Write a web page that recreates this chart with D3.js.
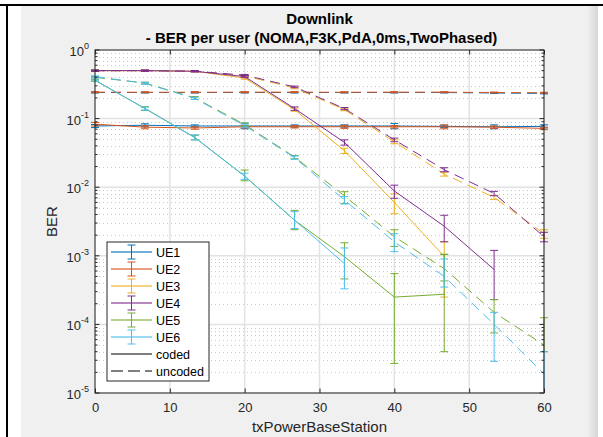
<!DOCTYPE html>
<html><head><meta charset="utf-8">
<script src="https://cdnjs.cloudflare.com/ajax/libs/d3/7.8.5/d3.min.js"></script>
<style>
body{margin:0;background:#fff;}
svg{display:block;}
text{font-family:"Liberation Sans",Arial,Helvetica,sans-serif;}
</style>
</head><body>
<svg id="c" width="603" height="437"></svg>
<script>
// ---------------- data ----------------
const txPower = [0, 6.667, 13.333, 20, 26.667, 33.333, 40, 46.667, 53.333, 60];
const xTicks = [0, 10, 20, 30, 40, 50, 60];
const yTickExp = [0, -1, -2, -3, -4, -5];
const ueNames = ["UE1", "UE2", "UE3", "UE4", "UE5", "UE6"];
const ueColors = ["#0072BD", "#D95319", "#EDB120", "#7E2F8E", "#77AC30", "#4DBEEE"];
const titleLines = ["Downlink", " - BER per user (NOMA,F3K,PdA,0ms,TwoPhased)"];
const xLabel = "txPowerBaseStation";
const yLabel = "BER";
const legendExtra = ["coded", "uncoded"];

// coded (solid) BER, with lower/upper error bar bounds
const ue1Coded   = [0.078, 0.080, 0.078, 0.078, 0.078, 0.078, 0.078, 0.077, 0.076, 0.077];
const ue1CodedLo = [0.074, 0.076, 0.075, 0.071, 0.075, 0.075, 0.071, 0.074, 0.071, 0.073];
const ue1CodedHi = [0.082, 0.084, 0.081, 0.086, 0.081, 0.081, 0.085, 0.080, 0.081, 0.081];
const ue2Coded   = [0.083, 0.075, 0.073, 0.076, 0.076, 0.076, 0.076, 0.076, 0.075, 0.072];
const ue2CodedLo = [0.078, 0.071, 0.070, 0.073, 0.073, 0.072, 0.073, 0.071, 0.072, 0.069];
const ue2CodedHi = [0.088, 0.079, 0.076, 0.079, 0.079, 0.080, 0.079, 0.081, 0.078, 0.075];
const ue3Coded   = [0.50, 0.50, 0.49, 0.39, 0.135, 0.034, 0.0060, 0.00098, null, null];
const ue3CodedLo = [0.49, 0.49, 0.48, 0.375, 0.128, 0.031, 0.0041, 0.00025, null, null];
const ue3CodedHi = [0.51, 0.51, 0.50, 0.405, 0.142, 0.037, 0.0080, 0.0016, null, null];
const ue4Coded   = [0.50, 0.50, 0.49, 0.41, 0.14, 0.045, 0.0088, 0.0027, 0.00063, null];
const ue4CodedLo = [0.49, 0.49, 0.48, 0.395, 0.132, 0.041, 0.0069, 0.0016, 0.00023, null];
const ue4CodedHi = [0.51, 0.51, 0.50, 0.425, 0.148, 0.049, 0.0107, 0.0039, 0.0012, null];
const ue5Coded   = [0.36, 0.141, 0.053, 0.0145, 0.0033, 0.00097, 0.00025, 0.000275, null, null];
const ue5CodedLo = [0.35, 0.131, 0.049, 0.0124, 0.0024, 0.00046, 0.000027, 0.00004, null, null];
const ue5CodedHi = [0.37, 0.149, 0.057, 0.0178, 0.0046, 0.00155, 0.00055, 0.00105, null, null];
const ue6Coded   = [0.365, 0.14, 0.053, 0.0145, 0.0033, 0.00077, null, null, null, null];
const ue6CodedLo = [0.355, 0.133, 0.049, 0.0130, 0.0025, 0.00033, null, null, null, null];
const ue6CodedHi = [0.375, 0.147, 0.058, 0.0160, 0.0044, 0.0013, null, null, null, null];

// uncoded (dashed) BER, with lower/upper error bar bounds
const ue1Unc   = [0.240, 0.240, 0.240, 0.240, 0.240, 0.240, 0.240, 0.240, 0.236, 0.233];
const ue1UncLo = [0.236, 0.236, 0.236, 0.236, 0.236, 0.236, 0.236, 0.236, 0.232, 0.229];
const ue1UncHi = [0.244, 0.244, 0.244, 0.244, 0.244, 0.244, 0.244, 0.244, 0.240, 0.237];
const ue2Unc   = [0.243, 0.242, 0.242, 0.243, 0.243, 0.242, 0.243, 0.243, 0.240, 0.238];
const ue2UncLo = [0.239, 0.238, 0.238, 0.239, 0.239, 0.238, 0.239, 0.239, 0.236, 0.234];
const ue2UncHi = [0.247, 0.246, 0.246, 0.247, 0.247, 0.246, 0.247, 0.247, 0.244, 0.242];
const ue3Unc   = [0.50, 0.50, 0.49, 0.42, 0.28, 0.135, 0.046, 0.0155, 0.0071, 0.0021];
const ue3UncLo = [0.49, 0.49, 0.48, 0.41, 0.272, 0.130, 0.043, 0.0145, 0.0066, 0.0018];
const ue3UncHi = [0.51, 0.51, 0.50, 0.43, 0.288, 0.140, 0.049, 0.0165, 0.0076, 0.0024];
const ue4Unc   = [0.50, 0.50, 0.49, 0.43, 0.29, 0.14, 0.049, 0.018, 0.0081, 0.0019];
const ue4UncLo = [0.49, 0.49, 0.48, 0.42, 0.282, 0.135, 0.046, 0.0168, 0.0075, 0.0016];
const ue4UncHi = [0.51, 0.51, 0.50, 0.44, 0.298, 0.145, 0.052, 0.0192, 0.0087, 0.0022];
const ue5Unc   = [0.40, 0.33, 0.20, 0.082, 0.0275, 0.0075, 0.0019, 0.00065, 0.00015, 0.00005];
const ue5UncLo = [0.39, 0.32, 0.19, 0.078, 0.026, 0.0058, 0.00137, 0.00043, 0.000075, 0.00004];
const ue5UncHi = [0.41, 0.34, 0.21, 0.086, 0.029, 0.0086, 0.0024, 0.00105, 0.00023, 0.000125];
const ue6Unc   = [0.41, 0.327, 0.197, 0.079, 0.027, 0.0065, 0.0016, 0.0005, 0.0001, 0.000019];
const ue6UncLo = [0.40, 0.317, 0.19, 0.075, 0.0255, 0.0057, 0.00115, 0.00035, 0.000029, 0.000001];
const ue6UncHi = [0.42, 0.337, 0.205, 0.083, 0.0285, 0.0073, 0.0021, 0.0009, 0.00015, 0.00004];

const codedSets = [[ue1Coded,ue1CodedLo,ue1CodedHi],[ue2Coded,ue2CodedLo,ue2CodedHi],[ue3Coded,ue3CodedLo,ue3CodedHi],
                   [ue4Coded,ue4CodedLo,ue4CodedHi],[ue5Coded,ue5CodedLo,ue5CodedHi],[ue6Coded,ue6CodedLo,ue6CodedHi]];
const uncSets = [[ue1Unc,ue1UncLo,ue1UncHi],[ue2Unc,ue2UncLo,ue2UncHi],[ue3Unc,ue3UncLo,ue3UncHi],
                 [ue4Unc,ue4UncLo,ue4UncHi],[ue5Unc,ue5UncLo,ue5UncHi],[ue6Unc,ue6UncLo,ue6UncHi]];

// ---------------- layout ----------------
const W = 603, H = 437;
const PL = 95, PR = 544, PT = 50, PB = 393;
const AX = "#262626";

const svg = d3.select("#c");

// page / frame
svg.append("rect").attr("x",0).attr("y",0).attr("width",W).attr("height",H).attr("fill","#fff");
const grad = svg.append("defs").append("linearGradient").attr("id","edge").attr("x1",0).attr("x2",1).attr("y1",0).attr("y2",0);
grad.append("stop").attr("offset","0%").attr("stop-color","#f0f0f0");
grad.append("stop").attr("offset","100%").attr("stop-color","#d6d6d6");
svg.append("rect").attr("x",21).attr("y",6).attr("width",566).attr("height",H-6).attr("fill","#f0f0f0");
svg.append("rect").attr("x",587).attr("y",6).attr("width",11).attr("height",H-6).attr("fill","url(#edge)");
svg.append("rect").attr("x",0).attr("y",4).attr("width",W).attr("height",2).attr("fill","#000");
svg.append("rect").attr("x",6).attr("y",4).attr("width",2).attr("height",H-4).attr("fill","#000");

const x = d3.scaleLinear().domain([0,60]).range([PL,PR]);
const y = d3.scaleLog().domain([1e-5,1]).range([PB,PT]);

// plot background
svg.append("rect").attr("x",PL).attr("y",PT).attr("width",PR-PL).attr("height",PB-PT).attr("fill","#fff");

// minor y grid (dotted)
const minorY = [];
for (let k=-5;k<0;k++) for (let m=2;m<=9;m++) minorY.push(m*Math.pow(10,k));
svg.append("g").selectAll("line").data(minorY).join("line")
  .attr("x1",PL).attr("x2",PR).attr("y1",d=>Math.round(y(d))+0.5).attr("y2",d=>Math.round(y(d))+0.5)
  .attr("stroke","#c8c8c8").attr("stroke-width",1).attr("stroke-dasharray","1,3");
// major grid
svg.append("g").selectAll("line").data(yTickExp).join("line")
  .attr("x1",PL).attr("x2",PR).attr("y1",d=>y(Math.pow(10,d))).attr("y2",d=>y(Math.pow(10,d)))
  .attr("stroke","#e2e2e2").attr("stroke-width",1.5);
svg.append("g").selectAll("line").data(xTicks).join("line")
  .attr("x1",d=>x(d)).attr("x2",d=>x(d)).attr("y1",PT).attr("y2",PB)
  .attr("stroke","#e2e2e2").attr("stroke-width",1.5);

// ---------------- data marks ----------------
svg.append("defs").append("clipPath").attr("id","clip")
  .append("rect").attr("x",PL-8).attr("y",PT).attr("width",PR-PL+16).attr("height",PB-PT);
const plot = svg.append("g").attr("clip-path","url(#clip)");

const line = d3.line().defined(d=>d.v!=null).x(d=>x(d.x)).y(d=>y(d.v));
const CAP = 4;

function drawSeries(set, color, dashed){
  const pts = txPower.map((t,i)=>({x:t, v:set[0][i], lo:set[1][i], hi:set[2][i]}));
  const g = plot.append("g");
  g.append("path").datum(pts).attr("d",line).attr("fill","none")
    .attr("stroke",color).attr("stroke-width",1)
    .attr("stroke-dasharray",dashed?"10,6":null);
  const eb = g.selectAll("g.eb").data(pts.filter(d=>d.v!=null)).join("g")
    .attr("stroke",color).attr("stroke-width",1);
  eb.append("line").attr("x1",d=>x(d.x)).attr("x2",d=>x(d.x))
    .attr("y1",d=>y(d.lo)).attr("y2",d=>y(d.hi));
  eb.append("line").attr("x1",d=>x(d.x)-CAP).attr("x2",d=>x(d.x)+CAP)
    .attr("y1",d=>y(d.lo)).attr("y2",d=>y(d.lo));
  eb.append("line").attr("x1",d=>x(d.x)-CAP).attr("x2",d=>x(d.x)+CAP)
    .attr("y1",d=>y(d.hi)).attr("y2",d=>y(d.hi));
}
ueNames.forEach((n,i)=>{
  drawSeries(codedSets[i], ueColors[i], false);
  drawSeries(uncSets[i], ueColors[i], true);
});

// ---------------- axes ----------------
svg.append("rect").attr("x",PL).attr("y",PT).attr("width",PR-PL).attr("height",PB-PT)
  .attr("fill","none").attr("stroke",AX).attr("stroke-width",1);

const xAxis = d3.axisBottom(x).tickValues(xTicks).tickSizeInner(-4.5).tickSizeOuter(0).tickPadding(10).tickFormat(d3.format("d"));
const gx = svg.append("g").attr("transform",`translate(0,${PB})`).call(xAxis);
gx.select(".domain").remove();
gx.selectAll("line").attr("stroke",AX);
gx.selectAll("text").attr("fill",AX).attr("font-size","13px").attr("font-family","Liberation Sans, Arial, sans-serif");
const gxt = svg.append("g").attr("transform",`translate(0,${PT})`)
  .call(d3.axisTop(x).tickValues(xTicks).tickSizeInner(-4.5).tickSizeOuter(0).tickFormat(""));
gxt.select(".domain").remove(); gxt.selectAll("line").attr("stroke",AX);

const majorVals = yTickExp.map(e=>Math.pow(10,e));
[[PL,1],[PR,-1]].forEach(([xx,dir])=>{
  svg.append("g").selectAll("line").data(majorVals).join("line")
    .attr("x1",xx).attr("x2",xx+dir*4.5).attr("y1",d=>y(d)).attr("y2",d=>y(d)).attr("stroke",AX);
  svg.append("g").selectAll("line").data(minorY).join("line")
    .attr("x1",xx).attr("x2",xx+dir*2.5).attr("y1",d=>y(d)).attr("y2",d=>y(d)).attr("stroke",AX);
});
const yl = svg.append("g").selectAll("text").data(yTickExp).join("text")
  .attr("x",PL-6).attr("y",d=>y(Math.pow(10,d))+6)
  .attr("text-anchor","end").attr("fill",AX).attr("font-size","13px");
yl.append("tspan").text("10");
yl.append("tspan").attr("dy",-7).attr("font-size","9px").text(d=>d===0?"0":"-"+Math.abs(d));

svg.append("text").attr("x",(PL+PR)/2).attr("y",432).attr("text-anchor","middle")
  .attr("fill",AX).attr("font-size","15px").text(xLabel);
svg.append("text").attr("transform",`translate(57,${(PT+PB)/2}) rotate(-90)`).attr("text-anchor","middle")
  .attr("fill",AX).attr("font-size","15px").text(yLabel);
svg.append("g").selectAll("text").data(titleLines).join("text")
  .attr("x",(PL+PR)/2).attr("y",(d,i)=>23.5+i*19).attr("text-anchor","middle")
  .attr("font-weight","bold").attr("font-size","15px").attr("fill","#000")
  .attr("xml:space","preserve").style("white-space","pre").text(d=>d);

// ---------------- legend ----------------
const LX = 107, LY = 242, LW = 102, LH = 139, ROW = 17;
const lg = svg.append("g");
lg.append("rect").attr("x",LX).attr("y",LY).attr("width",LW).attr("height",LH)
  .attr("fill","#fff").attr("stroke",AX).attr("stroke-width",1);
const items = ueNames.map((n,i)=>({label:n,color:ueColors[i],type:"ue"}))
  .concat([{label:legendExtra[0],color:"#555",type:"coded"},{label:legendExtra[1],color:"#000",type:"unc"}]);
const li = lg.selectAll("g.it").data(items).join("g")
  .attr("transform",(d,i)=>`translate(0,${LY+10+i*ROW})`);
li.append("line").attr("x1",LX+4).attr("x2",LX+45).attr("y1",0).attr("y2",0)
  .attr("stroke",d=>d.color).attr("stroke-width",d=>d.type==="unc"?1.2:1.6)
  .attr("stroke-opacity",d=>d.type==="ue"?0.75:1)
  .attr("stroke-dasharray",d=>d.type==="unc"?"12,5":null);
const lue = li.filter(d=>d.type==="ue");
lue.append("line").attr("x1",LX+24.5).attr("x2",LX+24.5).attr("y1",-7).attr("y2",7).attr("stroke",d=>d.color);
lue.append("line").attr("x1",LX+20.5).attr("x2",LX+28.5).attr("y1",-7).attr("y2",-7).attr("stroke",d=>d.color);
lue.append("line").attr("x1",LX+20.5).attr("x2",LX+28.5).attr("y1",7).attr("y2",7).attr("stroke",d=>d.color);
li.append("text").attr("x",LX+49).attr("y",4.5).attr("font-size","12.5px").attr("fill","#000").text(d=>d.label);
</script>
</body></html>
